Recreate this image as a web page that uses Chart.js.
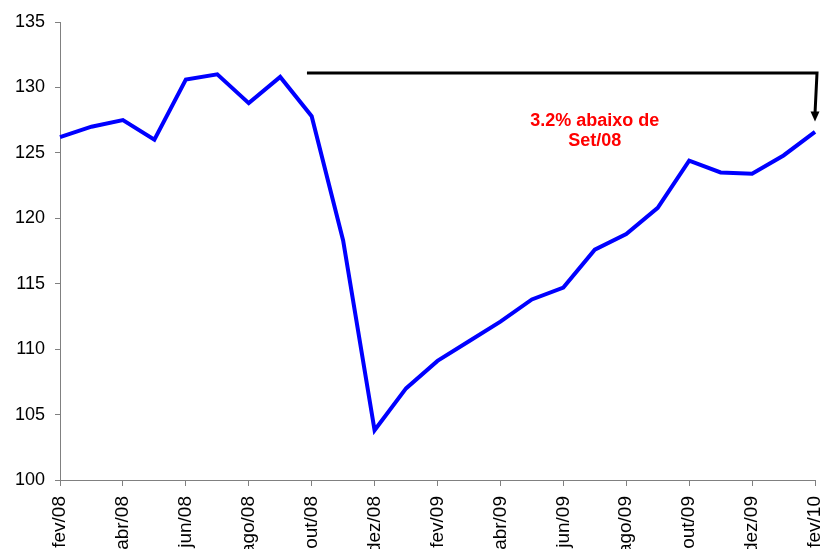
<!DOCTYPE html>
<html>
<head>
<meta charset="utf-8">
<script src="https://cdn.jsdelivr.net/npm/chart.js@4/dist/chart.umd.min.js"></script>
<style>
  html, body { margin: 0; padding: 0; background: #fff; overflow: hidden; }
  #wrap { width: 827px; height: 549px; }
</style>
</head>
<body>
<div id="wrap"><canvas id="grafico"></canvas></div>
<script>
// Meses (fev/08 - fev/10)
const meses = ['fev/08','mar/08','abr/08','mai/08','jun/08','jul/08','ago/08','set/08','out/08','nov/08','dez/08',
               'jan/09','fev/09','mar/09','abr/09','mai/09','jun/09','jul/09','ago/09','set/09','out/09','nov/09','dez/09',
               'jan/10','fev/10'];
const valores = [126.2, 127.0, 127.5, 126.0, 130.6, 131.0, 128.8, 130.8, 127.8, 118.3, 103.8,
                 107.0, 109.1, 110.6, 112.1, 113.8, 114.7, 117.6, 118.8, 120.8, 124.4, 123.5, 123.4,
                 124.8, 126.6];
const yTicks = [100, 105, 110, 115, 120, 125, 130, 135];

// Anotação (em unidades do gráfico)
const refNivel = 131.1;
const refInicio = 7.85;
const refFim = 24;
const setaPonta = 127.4;
const textoNota = ['3.2% abaixo de', 'Set/08'];
const notaX = 17.0;
const notaY = [127.4, 125.9];

const fonte = '"Liberation Sans", Arial, sans-serif';

const anotacao = {
    id: 'anotacao',
    afterDatasetsDraw(chart) {
        const { ctx, scales: { x, y } } = chart;
        const yl = y.getPixelForValue(refNivel);
        const x0 = x.getPixelForValue(refInicio);
        const x1 = x.getPixelForValue(refFim);
        const yp = y.getPixelForValue(setaPonta);
        ctx.save();
        ctx.strokeStyle = '#000';
        ctx.fillStyle = '#000';
        ctx.lineWidth = 3;
        ctx.beginPath();
        ctx.moveTo(x0, yl);
        ctx.lineTo(x1 + 2, yl);
        ctx.lineTo(x1, yp - 8);
        ctx.stroke();
        ctx.beginPath();
        ctx.moveTo(x1 - 4.5, yp - 10);
        ctx.lineTo(x1 + 4.5, yp - 10);
        ctx.lineTo(x1, yp);
        ctx.closePath();
        ctx.fill();

        ctx.fillStyle = '#FF0000';
        ctx.font = 'bold 18px ' + fonte;
        ctx.textAlign = 'center';
        ctx.textBaseline = 'middle';
        textoNota.forEach((t, i) => {
            ctx.fillText(t, x.getPixelForValue(notaX), y.getPixelForValue(notaY[i]));
        });
        ctx.restore();
    }
};

new Chart(document.getElementById('grafico').getContext('2d'), {
    type: 'line',
    data: {
        labels: meses,
        datasets: [{
            data: valores,
            borderColor: '#0000FF',
            borderWidth: 4,
            pointRadius: 0,
            tension: 0,
            fill: false
        }]
    },
    options: {
        responsive: true,
        maintainAspectRatio: false,
        animation: false,
        layout: { padding: { top: 22, right: 12, left: 0, bottom: 0 } },
        plugins: { legend: { display: false }, tooltip: { enabled: false } },
        scales: {
            x: {
                type: 'category',
                offset: false,
                border: { color: '#808080', width: 1 },
                grid: {
                    drawOnChartArea: false,
                    drawTicks: true,
                    tickLength: 6,
                    color: c => (c.index % 2 === 0 ? '#808080' : 'rgba(0,0,0,0)')
                },
                ticks: {
                    autoSkip: false,
                    minRotation: 90,
                    maxRotation: 90,
                    padding: 10,
                    color: '#000',
                    font: { family: fonte, size: 19 },
                    callback: (v, i) => (i % 2 === 0 ? meses[i] : '')
                },
                afterFit: s => {
                    s.height = 69;
                    s.paddingLeft = 0;
                    s.paddingRight = 0;
                }
            },
            y: {
                min: 100,
                max: 135,
                border: { color: '#808080', width: 1 },
                grid: { drawOnChartArea: false, drawTicks: true, tickLength: 5, color: '#808080' },
                afterBuildTicks: s => { s.ticks = yTicks.map(v => ({ value: v })); },
                ticks: {
                    padding: 10,
                    color: '#000',
                    font: { family: fonte, size: 18 }
                },
                afterFit: s => {
                    s.width = 60;
                    s.paddingTop = 0;
                    s.paddingBottom = 0;
                }
            }
        }
    },
    plugins: [anotacao]
});
</script>
</body>
</html>
